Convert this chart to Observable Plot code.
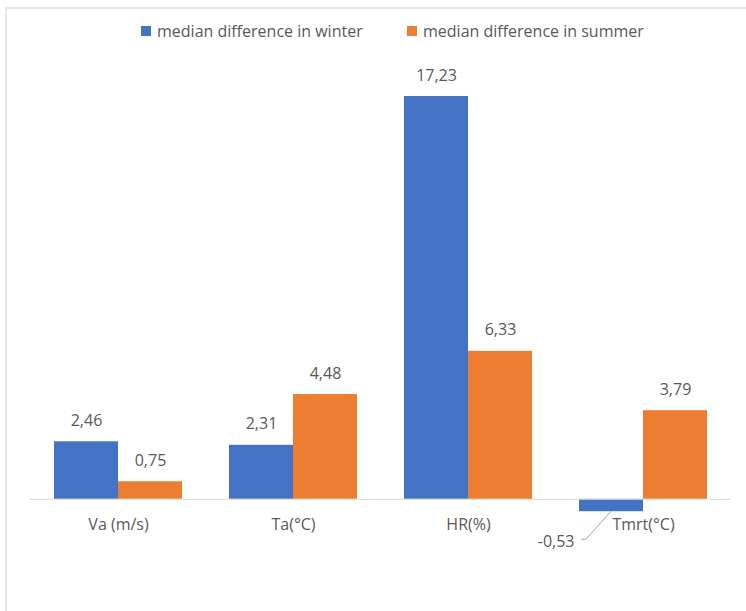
<!DOCTYPE html>
<html>
<head>
<meta charset="utf-8">
<script src="https://cdn.jsdelivr.net/npm/d3@7"></script>
<script src="https://cdn.jsdelivr.net/npm/@observablehq/plot@0.6"></script>
<style>
  html, body { margin: 0; padding: 0; background: #fff; }
  body { width: 746px; height: 611px; position: relative; overflow: hidden; font-family: "Open Sans", "Noto Sans", sans-serif; }
  #frame { position: absolute; left: 5px; top: 7px; width: 760px; height: 700px; border-top: 2px solid #e4e4e4; border-left: 2px solid #e4e4e4; pointer-events: none; z-index: 10; }
  #legend { position: absolute; left: 0; top: 0; width: 746px; height: 60px; color: #595959; font-size: 16px; }
  .item { position: absolute; top: 20px; display: flex; align-items: center; white-space: nowrap; }
  .sw { width: 10px; height: 10px; margin-right: 6px; }
  #chart { position: absolute; left: 0; top: 60px; }
</style>
</head>
<body>
<div id="frame"></div>
<div id="legend"></div>
<div id="chart"></div>
<script>
const categories = ["Va (m/s)", "Ta(°C)", "HR(%)", "Tmrt(°C)"];
const winter = [2.46, 2.31, 17.23, -0.53];
const summer = [0.75, 4.48, 6.33, 3.79];
const seriesNames = ["median difference in winter", "median difference in summer"];
const colors = ["#4472C4", "#ED7D31"];

const fmt = v => v.toFixed(2).replace(".", ",");
const rows = categories.map((c, i) => ({cat: c, winter: winter[i], summer: summer[i]}));

// legend
const legend = document.getElementById("legend");
const legendLeft = [141, 407];
seriesNames.forEach((name, i) => {
  const it = document.createElement("div");
  it.className = "item";
  it.style.left = legendLeft[i] + "px";
  it.innerHTML = `<div class="sw" style="background:${colors[i]}"></div><span>${name}</span>`;
  legend.appendChild(it);
});

const labelColor = "#595959";
const pos = rows.filter(d => d.winter >= 0);
const neg = rows.filter(d => d.winter < 0);

const leader = (index, scales) => {
  const g = d3.create("svg:g");
  const xs = scales.x, ys = scales.y;
  let bw = xs.bandwidth;
  if (typeof bw === "function") bw = bw();
  if (!(bw > 0)) bw = (xs(categories[1]) - xs(categories[0])) * 0.73;
  for (const d of neg) {
    const x0 = xs(d.cat) + bw / 4;
    const y0 = ys(d.winter);
    g.append("path")
      .attr("d", `M${x0},${y0}L${x0 - 25},${y0 + 28}L${x0 - 30},${y0 + 28}`)
      .attr("fill", "none")
      .attr("stroke", "#a6a6a6")
      .attr("stroke-width", 1);
  }
  return g.node();
};

const chart = Plot.plot({
  width: 746,
  height: 551,
  marginLeft: 29,
  marginRight: 15,
  marginTop: 18,
  marginBottom: 7,
  style: {background: "transparent", fontFamily: "'Open Sans', 'Noto Sans', sans-serif"},
  x: {domain: categories, paddingInner: 0.27, paddingOuter: 0.135, axis: null},
  y: {domain: [-4.5, 18], axis: null},
  marks: [
    Plot.barY(rows, {x: "cat", y: "winter", insetRight: 64, fill: colors[0]}),
    Plot.barY(rows, {x: "cat", y: "summer", insetLeft: 64, fill: colors[1]}),
    Plot.ruleY([0], {stroke: "#d9d9d9", strokeWidth: 1}),
    Plot.text(pos, {x: "cat", y: "winter", text: d => fmt(d.winter), dx: -32, dy: -21, fill: labelColor, fontSize: 16}),
    Plot.text(rows, {x: "cat", y: "summer", text: d => fmt(d.summer), dx: 32, dy: -21, fill: labelColor, fontSize: 16}),
    Plot.text(neg, {x: "cat", y: "winter", text: d => fmt(d.winter), dx: -32 - 37, dy: 30, textAnchor: "end", fill: labelColor, fontSize: 16}),
    leader,
    Plot.text(categories, {x: d => d, y: 0, text: d => d, dy: 26, fill: labelColor, fontSize: 16})
  ]
});
document.getElementById("chart").appendChild(chart);
</script>
</body>
</html>
